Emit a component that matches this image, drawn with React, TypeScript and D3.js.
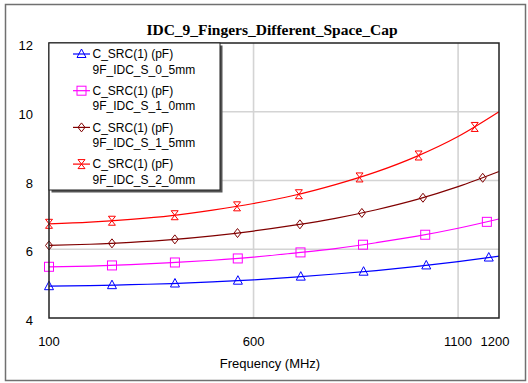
import React, { useLayoutEffect, useRef, useState } from "react";
import * as d3 from "d3";

const freqs = [100, 200, 300, 400, 500, 600, 700, 800, 900, 1000, 1100, 1200];
const capS05 = [4.925, 4.94, 4.97, 5.0, 5.05, 5.11, 5.19, 5.28, 5.38, 5.5, 5.64, 5.8];
const capS10 = [5.49, 5.51, 5.55, 5.61, 5.68, 5.77, 5.89, 6.02, 6.19, 6.38, 6.61, 6.88];
const capS15 = [6.11, 6.145, 6.2, 6.28, 6.39, 6.53, 6.7, 6.9, 7.15, 7.45, 7.82, 8.26];
const capS20 = [6.74, 6.79, 6.87, 6.98, 7.14, 7.33, 7.57, 7.88, 8.25, 8.71, 9.28, 10.0];

const seriesLabels = ["9F_IDC_S_0_5mm", "9F_IDC_S_1_0mm", "9F_IDC_S_1_5mm", "9F_IDC_S_2_0mm"];
const seriesValues = [capS05, capS10, capS15, capS20];
const seriesColors = ["#0000ff", "#ff00ff", "#800000", "#ff0000"];
const seriesMarkers = ["triangle", "square", "diamond", "hourglass"];
const measureName = "C_SRC(1) (pF)";

const xTicks = [100, 600, 1100, 1200];
const yTicks = [4, 6, 8, 10, 12];
const xGrid = [600, 1100];
const yGrid = [6, 8, 10];

const title = "IDC_9_Fingers_Different_Space_Cap";
const xTitle = "Frequency (MHz)";

const W = 528;
const H = 383;
const plot = { left: 49, right: 499, top: 43, bottom: 318 };
const MARKER_SPACING = 63;

const x = d3.scaleLinear().domain([100, 1200]).range([plot.left, plot.right]);
const y = d3.scaleLinear().domain([4, 12]).range([plot.bottom, plot.top]);

function Marker({ type, cx, cy, color }: { type: string; cx: number; cy: number; color: string }) {
  const common = { fill: "none", stroke: color, strokeWidth: 1 };
  if (type === "triangle") {
    return <path d={`M${cx},${cy - 5}L${cx + 4.5},${cy + 3.5}L${cx - 4.5},${cy + 3.5}Z`} {...common} />;
  }
  if (type === "square") {
    return <rect x={cx - 4.5} y={cy - 4.5} width={9} height={9} {...common} />;
  }
  if (type === "diamond") {
    return <path d={`M${cx},${cy - 4.5}L${cx + 3.5},${cy}L${cx},${cy + 4.5}L${cx - 3.5},${cy}Z`} {...common} />;
  }
  // hourglass
  return (
    <path
      d={`M${cx - 3.5},${cy - 4.5}L${cx + 3.5},${cy - 4.5}L${cx - 3.5},${cy + 4.5}L${cx + 3.5},${cy + 4.5}Z`}
      {...common}
    />
  );
}

export default function App() {
  const pathRefs = useRef<(SVGPathElement | null)[]>([]);
  const [markers, setMarkers] = useState<{ x: number; y: number }[][]>([]);

  const line = d3
    .line<number>()
    .x((_, i) => x(freqs[i]))
    .y((d) => y(d))
    .curve(d3.curveMonotoneX);

  useLayoutEffect(() => {
    const all = pathRefs.current.map((p) => {
      const pts: { x: number; y: number }[] = [];
      if (!p) return pts;
      const L = p.getTotalLength();
      for (let s = 0; s <= L; s += MARKER_SPACING) {
        const pt = p.getPointAtLength(s);
        pts.push({ x: pt.x, y: pt.y });
      }
      return pts;
    });
    setMarkers(all);
  }, []);

  const font = "'Liberation Sans', Arial, sans-serif";
  const legendX = plot.left;
  const legendY = plot.top;
  const legendW = 171;
  const legendH = 147;
  const entryH = 36.7;

  return (
    <svg
      width={W}
      height={H}
      style={{ position: "absolute", left: 0, top: 0, background: "#fff" }}
      fontFamily={font}
    >
      <rect x={5.5} y={4.5} width={520} height={376} fill="#fff" stroke="#707070" strokeWidth={1.5} />
      <text
        x={272}
        y={35}
        textAnchor="middle"
        fontFamily="'Liberation Serif', 'Times New Roman', serif"
        fontWeight="bold"
        fontSize={15.5}
        fill="#000"
      >
        {title}
      </text>

      {/* grid */}
      {yGrid.map((v) => (
        <line key={"gy" + v} x1={plot.left} x2={plot.right} y1={y(v)} y2={y(v)} stroke="#d4d4d4" strokeWidth={1.6} />
      ))}
      {xGrid.map((v) => (
        <line key={"gx" + v} x1={x(v)} x2={x(v)} y1={plot.top} y2={plot.bottom} stroke="#d4d4d4" strokeWidth={1.6} />
      ))}

      {/* series */}
      {seriesValues.map((vals, i) => (
        <path
          key={"s" + i}
          ref={(el) => {
            pathRefs.current[i] = el;
          }}
          d={line(vals) || ""}
          fill="none"
          stroke={seriesColors[i]}
          strokeWidth={1.2}
        />
      ))}
      {markers.map((pts, i) =>
        pts.map((p, j) => (
          <Marker key={`m${i}-${j}`} type={seriesMarkers[i]} cx={p.x} cy={p.y} color={seriesColors[i]} />
        ))
      )}

      {/* plot frame */}
      <rect
        x={plot.left}
        y={plot.top}
        width={plot.right - plot.left}
        height={plot.bottom - plot.top}
        fill="none"
        stroke="#222"
        strokeWidth={1.5}
      />

      {/* y tick labels */}
      {yTicks.map((v) => (
        <text key={"yt" + v} x={33} y={y(v) + 7} textAnchor="end" fontSize={13} fill="#000">
          {v}
        </text>
      ))}
      {/* x tick labels */}
      {xTicks.map((v) => (
        <text key={"xt" + v} x={x(v) - (v === 1200 ? 4 : 0)} y={346} textAnchor="middle" fontSize={13} fill="#000">
          {v}
        </text>
      ))}
      <text x={270} y={368} textAnchor="middle" fontSize={13} fill="#000">
        {xTitle}
      </text>

      {/* legend */}
      <rect x={legendX + 2.5} y={legendY + 2.5} width={legendW} height={legendH} fill="#555" />
      <rect x={legendX} y={legendY} width={legendW} height={legendH} fill="#fff" stroke="#222" strokeWidth={1} />
      {seriesLabels.map((lab, i) => {
        const cy = legendY + 11 + i * entryH;
        return (
          <g key={"lg" + i}>
            <line x1={73} x2={90} y1={cy} y2={cy} stroke={seriesColors[i]} strokeWidth={1.2} />
            <Marker type={seriesMarkers[i]} cx={81.5} cy={cy} color={seriesColors[i]} />
            <text x={92.5} y={cy + 4.3} fontSize={12} fill="#000">
              {measureName}
            </text>
            <text x={92.5} y={cy + 19.6} fontSize={12} fill="#000">
              {lab}
            </text>
          </g>
        );
      })}
    </svg>
  );
}
